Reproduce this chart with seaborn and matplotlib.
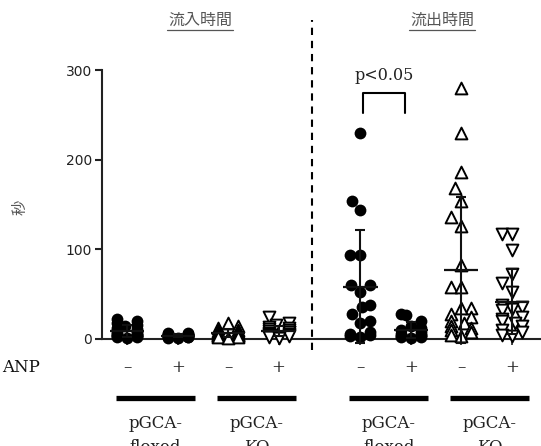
import numpy as np
import pandas as pd
import matplotlib
matplotlib.use("Agg")
import matplotlib.pyplot as plt
import seaborn as sns
from matplotlib.lines import Line2D
import matplotlib.transforms as mtransforms

# ---------------- data ----------------
group_names = ["in_flox_minus", "in_flox_plus", "in_ko_minus", "in_ko_plus",
               "out_flox_minus", "out_flox_plus", "out_ko_minus", "out_ko_plus"]
in_flox_minus = [22, 20, 18, 16, 14, 12, 11, 10, 9, 8, 7, 6, 5, 5, 4, 3, 3, 2, 2, 1]
in_flox_plus = [7, 7, 6, 6, 5, 5, 5, 4, 4, 4, 3, 3, 3, 2, 2, 2, 1, 1]
in_ko_minus = [18, 14, 12, 10, 9, 8, 7, 6, 6, 5, 5, 4, 4, 3, 3, 2, 2, 1]
in_ko_plus = [24, 18, 16, 13, 12, 11, 10, 9, 8, 8, 7, 6, 6, 5, 4, 3, 2, 1]
out_flox_minus = [230, 154, 144, 94, 94, 60, 60, 52, 38, 36, 28, 20, 18, 8, 6, 4, 3, 2]
out_flox_plus = [28, 27, 20, 15, 12, 10, 8, 6, 5, 4, 3, 2, 2, 1]
out_ko_minus = [280, 230, 186, 168, 154, 136, 126, 82, 58, 58, 35, 35, 28, 24, 20,
                18, 15, 12, 10, 8, 5, 3]
out_ko_plus = [117, 117, 99, 73, 62, 52, 38, 36, 34, 32, 25, 22, 20, 18, 15, 10, 8, 5, 3]
genotype = ["floxed", "floxed", "KO", "KO", "floxed", "floxed", "KO", "KO"]
anp_labels = ["–", "+", "–", "+", "–", "+", "–", "+"]
genotype_labels = ["pGCA-\nfloxed", "pGCA-\nKO", "pGCA-\nfloxed", "pGCA-\nKO"]
section_titles = ["流入時間", "流出時間"]
y_ticks = [0, 100, 200, 300]
y_label = "秒"
p_text = "p<0.05"

series = [in_flox_minus, in_flox_plus, in_ko_minus, in_ko_plus,
          out_flox_minus, out_flox_plus, out_ko_minus, out_ko_plus]

# ---------------- layout ----------------
positions = [2, 4, 6, 8, 11.24, 13.24, 15.24, 17.24]
marker_for = {("floxed", "–"): "o", ("floxed", "+"): "o",
              ("KO", "–"): "^", ("KO", "+"): "v"}

rows = []
for name, vals, p, gt, anp in zip(group_names, series, positions, genotype, anp_labels):
    for v in vals:
        rows.append({"group": name, "value": v, "pos": p,
                     "marker": marker_for[(gt, anp)]})
df = pd.DataFrame(rows)

sns.set_theme(style="ticks")
plt.rcParams["font.family"] = ["DejaVu Sans"]

W, H = 541, 446
fig = plt.figure(figsize=(W / 100, H / 100), dpi=100)
ax_left, ax_right, ax_top, ax_bot = 102, 541, 70, 339
ax = fig.add_axes([ax_left / W, 1 - ax_bot / H, (ax_right - ax_left) / W,
                   (ax_bot - ax_top) / H])

for name in group_names:
    sub = df[df["group"] == name]
    mk = sub["marker"].iloc[0]
    if mk == "o":
        kw = dict(color="black", edgecolor="black", linewidth=0)
    else:
        kw = dict(color="white", edgecolor="black", linewidth=1.4)
    sns.swarmplot(data=sub, x="pos", y="value", native_scale=True, orient="x",
                  marker=mk, size=8.5, ax=ax, zorder=3, warn_thresh=1, **kw)

for c in ax.collections:
    c.set_clip_on(False)

# mean +/- SD
stats = df.groupby("group", sort=False)["value"].agg(["mean", "std"])
for name, p in zip(group_names, positions):
    m, s = stats.loc[name, "mean"], stats.loc[name, "std"]
    eb = ax.errorbar([p], [m], yerr=[s], fmt="none", ecolor="#111111",
                     elinewidth=1.5, capsize=3.5, capthick=1.5, zorder=5)
    for art in list(eb.lines[1]) + list(eb.lines[2]):
        art.set_clip_on(False)
    ax.hlines(m, p - 0.68, p + 0.68, color="#111111", lw=1.6, zorder=5,
              clip_on=False)

ax.set_xlim(1.0, 18.4)
ax.set_ylim(0, 300)
ax.set_yticks(y_ticks)
ax.set_yticklabels([str(t) for t in y_ticks], fontsize=10, color="#222222")
ax.set_xticks(positions)
ax.set_xticklabels([])
ax.set_xlabel("")
ax.set_ylabel("")
sns.despine(ax=ax, top=True, right=True)
for sp in ["left", "bottom"]:
    ax.spines[sp].set_linewidth(1.5)
    ax.spines[sp].set_color("#222222")
ax.tick_params(axis="y", length=5, width=1.5, color="#222222", pad=2)
ax.tick_params(axis="x", length=4, width=1.2, color="#222222")

trans = mtransforms.blended_transform_factory(ax.transData, ax.transAxes)
def yfrac(py):
    return (ax_bot - py) / (ax_bot - ax_top)

# dashed separator
ax.plot([9.32, 9.32], [yfrac(350), yfrac(20)], transform=trans, color="black",
        lw=1.5, ls=(0, (3.5, 2.8)), clip_on=False)

serif = ["DejaVu Serif"]
# ANP row
fig.text(2 / W, 1 - 368 / H, "ANP", family=serif, fontsize=12, va="center",
         ha="left", color="#111111")
for p, lab in zip(positions, anp_labels):
    ax.text(p, yfrac(368), lab, transform=trans, ha="center", va="center",
            family=serif, fontsize=12, color="#222222")

# genotype bars and labels
for i, lab in enumerate(genotype_labels):
    c = (positions[2 * i] + positions[2 * i + 1]) / 2 + 0.12
    ax.plot([c - 1.58, c + 1.58], [yfrac(398), yfrac(398)], transform=trans,
            color="black", lw=3.8, solid_capstyle="butt", clip_on=False)
    ax.text(c, yfrac(415), lab, transform=trans, ha="center", va="top",
            family=serif, fontsize=12, color="#222222", linespacing=1.5)

# significance bracket
bx0, bx1 = positions[4] + 0.1, positions[5] - 0.24
ax.plot([bx0, bx0, bx1, bx1], [252, 274, 274, 252], color="black", lw=1.5,
        clip_on=False)
ax.text((bx0 + bx1) / 2, yfrac(75), p_text, transform=trans, ha="center",
        va="center", family=serif, fontsize=11.5, color="#222222")

# section titles (underlined)
cjk = ["Noto Sans CJK JP", "DejaVu Sans"]
for cx, t in zip([200, 442], section_titles):
    fig.text(cx / W, 1 - 20 / H, t, family=cjk, fontsize=11.5, ha="center",
             va="center", color="#555555")
    fig.add_artist(Line2D([(cx - 33) / W, (cx + 33) / W],
                          [1 - 29.5 / H, 1 - 29.5 / H], color="#555555", lw=0.9))

fig.text(20 / W, 1 - 207 / H, y_label, family=cjk, fontsize=11, rotation=90,
         ha="center", va="center", color="#555555")

fig.savefig("out.png", dpi=100)
